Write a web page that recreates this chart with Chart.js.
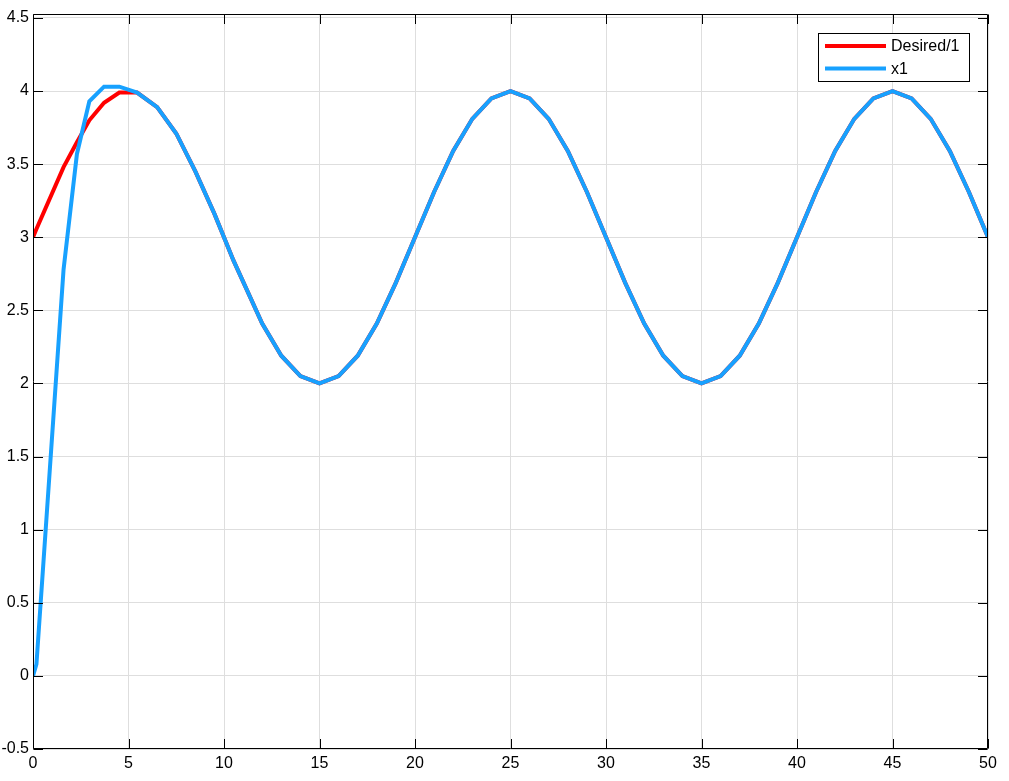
<!DOCTYPE html>
<html>
<head>
<meta charset="utf-8">
<script src="https://cdn.jsdelivr.net/npm/chart.js@4.4.1/dist/chart.umd.min.js"></script>
<style>
  html, body { margin: 0; padding: 0; background: #ffffff; }
  #wrap { width: 1009px; height: 781px; position: relative; }
</style>
</head>
<body>
<div id="wrap"><canvas id="c"></canvas></div>
<script>
// ---- data ----
const timeValues = [0, 0.18, 1.6, 2.3, 2.95, 3.72, 4.52, 5.45, 6.5, 7.5, 8.5, 9.5, 10.5,
  12, 13, 14, 15, 16, 17, 18, 19, 20, 21, 22, 23, 24, 25, 26, 27, 28, 29, 30,
  31, 32, 33, 34, 35, 36, 37, 38, 39, 40, 41, 42, 43, 44, 45, 46, 47, 48, 49, 50];
const desiredValues = [3.0, 3.057, 3.48, 3.65, 3.80, 3.92, 3.99, 3.99, 3.89, 3.71, 3.45, 3.16, 2.84,
  2.41, 2.19, 2.05, 2.0, 2.05, 2.19, 2.41, 2.69, 3.0, 3.31, 3.59, 3.81, 3.95, 4.0, 3.95, 3.81, 3.59, 3.31, 3.0,
  2.69, 2.41, 2.19, 2.05, 2.0, 2.05, 2.19, 2.41, 2.69, 3.0, 3.31, 3.59, 3.81, 3.95, 4.0, 3.95, 3.81, 3.59, 3.31, 3.0];
const x1Values = [0.0, 0.08, 2.78, 3.57, 3.93, 4.03, 4.03, 3.99, 3.89, 3.71, 3.45, 3.16, 2.84,
  2.41, 2.19, 2.05, 2.0, 2.05, 2.19, 2.41, 2.69, 3.0, 3.31, 3.59, 3.81, 3.95, 4.0, 3.95, 3.81, 3.59, 3.31, 3.0,
  2.69, 2.41, 2.19, 2.05, 2.0, 2.05, 2.19, 2.41, 2.69, 3.0, 3.31, 3.59, 3.81, 3.95, 4.0, 3.95, 3.81, 3.59, 3.31, 3.0];
const seriesNames = ["Desired/1", "x1"];
const xTicks = [0, 5, 10, 15, 20, 25, 30, 35, 40, 45, 50];
const yTicks = [-0.5, 0, 0.5, 1, 1.5, 2, 2.5, 3, 3.5, 4, 4.5];

const FONT = '"Liberation Sans", Arial, Helvetica, sans-serif';
const RED = '#ff0000';
const BLUE = '#17a1ff';

function toPoints(xs, ys) { return xs.map((x, i) => ({ x: x, y: ys[i] })); }

// Box, inward ticks and MATLAB-style legend
const boxPlugin = {
  id: 'boxPlugin',
  afterDraw(chart) {
    const ctx = chart.ctx;
    const a = chart.chartArea;
    const xs = chart.scales.x, ys = chart.scales.y;
    const L = Math.round(a.left) + 0.5, R = Math.round(a.right) - 0.5;
    const T = Math.round(a.top) + 0.5, B = Math.round(a.bottom) - 0.5;
    ctx.save();
    ctx.strokeStyle = '#000000';
    ctx.lineWidth = 1;
    ctx.beginPath();
    ctx.rect(L, T, R - L, B - T);
    ctx.stroke();
    const tl = 9.5;
    ctx.beginPath();
    xTicks.forEach(v => {
      const px = Math.round(xs.getPixelForValue(v)) + 0.5;
      ctx.moveTo(px, B); ctx.lineTo(px, B - tl);
      ctx.moveTo(px, T); ctx.lineTo(px, T + tl);
    });
    yTicks.forEach(v => {
      const py = Math.round(ys.getPixelForValue(v)) + 0.5;
      ctx.moveTo(L, py); ctx.lineTo(L + tl, py);
      ctx.moveTo(R, py); ctx.lineTo(R - tl, py);
    });
    ctx.stroke();

    // legend
    const bx = 818.5, by = 33.5, bw = 151, bh = 48;
    ctx.fillStyle = '#ffffff';
    ctx.fillRect(bx, by, bw, bh);
    ctx.strokeStyle = '#000000';
    ctx.lineWidth = 1;
    ctx.strokeRect(bx, by, bw, bh);
    const rows = [46, 68.5];
    chart.data.datasets.forEach((ds, i) => {
      const y = rows[i];
      ctx.strokeStyle = ds.borderColor;
      ctx.lineWidth = 4;
      ctx.beginPath();
      ctx.moveTo(825, y); ctx.lineTo(886, y);
      ctx.stroke();
      ctx.fillStyle = '#000000';
      ctx.font = '16px ' + FONT;
      ctx.textBaseline = 'middle';
      ctx.textAlign = 'left';
      ctx.fillText(ds.label, 891, y + 1);
    });
    ctx.restore();
  }
};

new Chart(document.getElementById('c'), {
  type: 'line',
  data: {
    datasets: [
      { label: seriesNames[0], data: toPoints(timeValues, desiredValues), borderColor: RED, backgroundColor: RED,
        borderWidth: 4, pointRadius: 0, tension: 0, fill: false, order: 1 },
      { label: seriesNames[1], data: toPoints(timeValues, x1Values), borderColor: BLUE, backgroundColor: BLUE,
        borderWidth: 4, pointRadius: 0, tension: 0, fill: false, order: 0 }
    ]
  },
  options: {
    responsive: true,
    maintainAspectRatio: false,
    animation: false,
    events: [],
    layout: { padding: { top: 14, right: 21, left: 0, bottom: 0 } },
    plugins: { legend: { display: false }, tooltip: { enabled: false }, title: { display: false } },
    scales: {
      x: {
        type: 'linear', min: 0, max: 50,
        afterBuildTicks(s) { s.ticks = xTicks.map(v => ({ value: v })); },
        afterFit(s) { s.height = 32; },
        grid: { color: '#dedede', lineWidth: 1, drawTicks: false },
        border: { display: false },
        ticks: { color: '#000000', font: { family: FONT, size: 16 }, padding: 5, maxRotation: 0, autoSkip: false,
          callback: v => String(v) }
      },
      y: {
        type: 'linear', min: -0.5, max: 4.527,
        afterBuildTicks(s) { s.ticks = yTicks.map(v => ({ value: v })); },
        afterFit(s) { s.width = 33; },
        grid: { color: '#dedede', lineWidth: 1, drawTicks: false },
        border: { display: false },
        ticks: { color: '#000000', font: { family: FONT, size: 16 }, padding: 4, autoSkip: false,
          callback: v => String(v) }
      }
    }
  },
  plugins: [boxPlugin]
});
</script>
</body>
</html>
